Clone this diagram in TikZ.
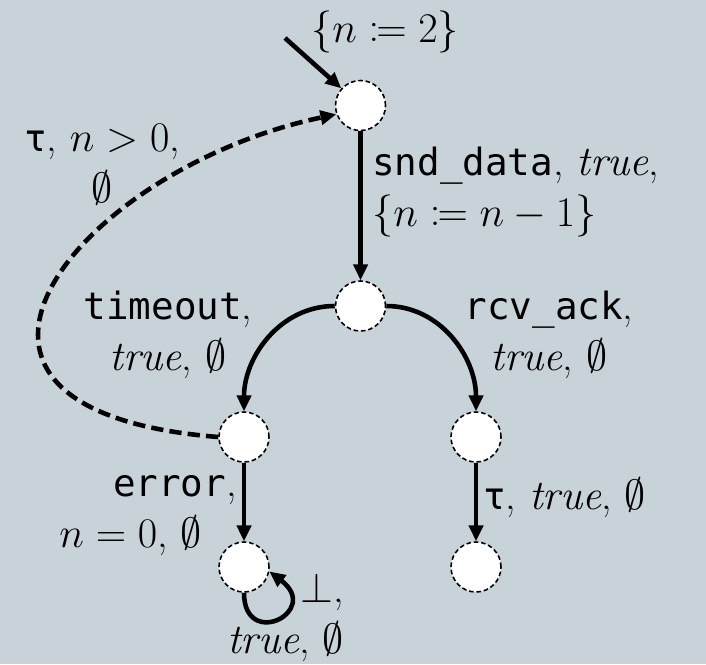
\RequirePackage{fix-cm}
\documentclass[tikz,border=0pt]{standalone}
\usepackage{fontspec}
\setmonofont{DejaVu Sans Mono}[Scale=0.89]
\usepackage{mathtools}
\usetikzlibrary{arrows.meta}
\definecolor{bgcol}{RGB}{199,210,217}
\begin{document}
\begin{tikzpicture}[
  loc/.style={circle, draw, fill=white, line width=0.9pt, dash pattern=on 2.6pt off 1.6pt,
    minimum size=1cm, inner sep=0pt},
  trans/.style={line width=2.6pt, -{Triangle[length=9pt,width=8pt]}},
  dashtrans/.style={trans, dash pattern=on 7pt off 3.5pt},
  lbl/.style={font=\fontsize{24}{29}\selectfont, inner sep=0pt}]
\fill[bgcol, use as bounding box] (0,0) rectangle (14.12,-13.28);

\node[loc] (s0) at (7.21,-2.11) {};
\node[loc] (s1) at (7.21,-6.12) {};
\node[loc] (s3) at (4.88,-8.74) {};
\node[loc] (s4) at (9.52,-8.74) {};
\node[loc] (s5) at (4.88,-11.34) {};
\node[loc] (s6) at (9.52,-11.34) {};
\coordinate (init) at (5.70,-0.76);

\node[lbl] (initlbl) at (7.70,-0.64) {$\{n \coloneqq 2\}$};
\node[lbl, align=center] (taulbl) at (2.04,-3.30) {\texttt{τ}, $n > 0$,\\ $\emptyset$};
\node[lbl, align=left, anchor=west] (sndlbl) at (7.44,-3.84)
  {\texttt{snd\char95{}data}, $\mathit{true}$,\\ $\{n \coloneqq n-1\}$};
\node[lbl, align=center] (tolbl) at (3.36,-6.70) {\texttt{timeout},\\ $\mathit{true}$, $\emptyset$};
\node[lbl, align=center] (rcvlbl) at (10.98,-6.70) {\texttt{rcv\char95{}ack},\\ $\mathit{true}$, $\emptyset$};
\node[lbl, align=right, anchor=east] (errlbl) at (4.74,-10.32)
  {\texttt{error},\\ $n = 0$, $\emptyset$\hspace*{0.7cm}};
\node[lbl, anchor=west] (taulbl2) at (9.66,-9.95) {\texttt{τ}, $\mathit{true}$, $\emptyset$};
\node[lbl, align=right, anchor=east] (botlbl) at (6.88,-12.34) {$\bot$,\\ $\mathit{true}$, $\emptyset$};

\draw[trans] (init) -- (s0);
\draw[trans] (s0) -- (s1);
\draw[trans] (s1.west) to[out=180, in=90] (s3);
\draw[trans] (s1.east) to[out=0, in=90] (s4);
\draw[trans] (s3) -- (s5);
\draw[trans] (s4) -- (s6);
\draw[dashtrans] (s3.west) .. controls +(-6.78,0.54) and +(-5.14,-1.08) .. (s0.200);
\draw[trans] (s5.south) .. controls +(0,-1.15) and +(1.05,-0.8) .. (s5.-10);
\end{tikzpicture}
\end{document}
